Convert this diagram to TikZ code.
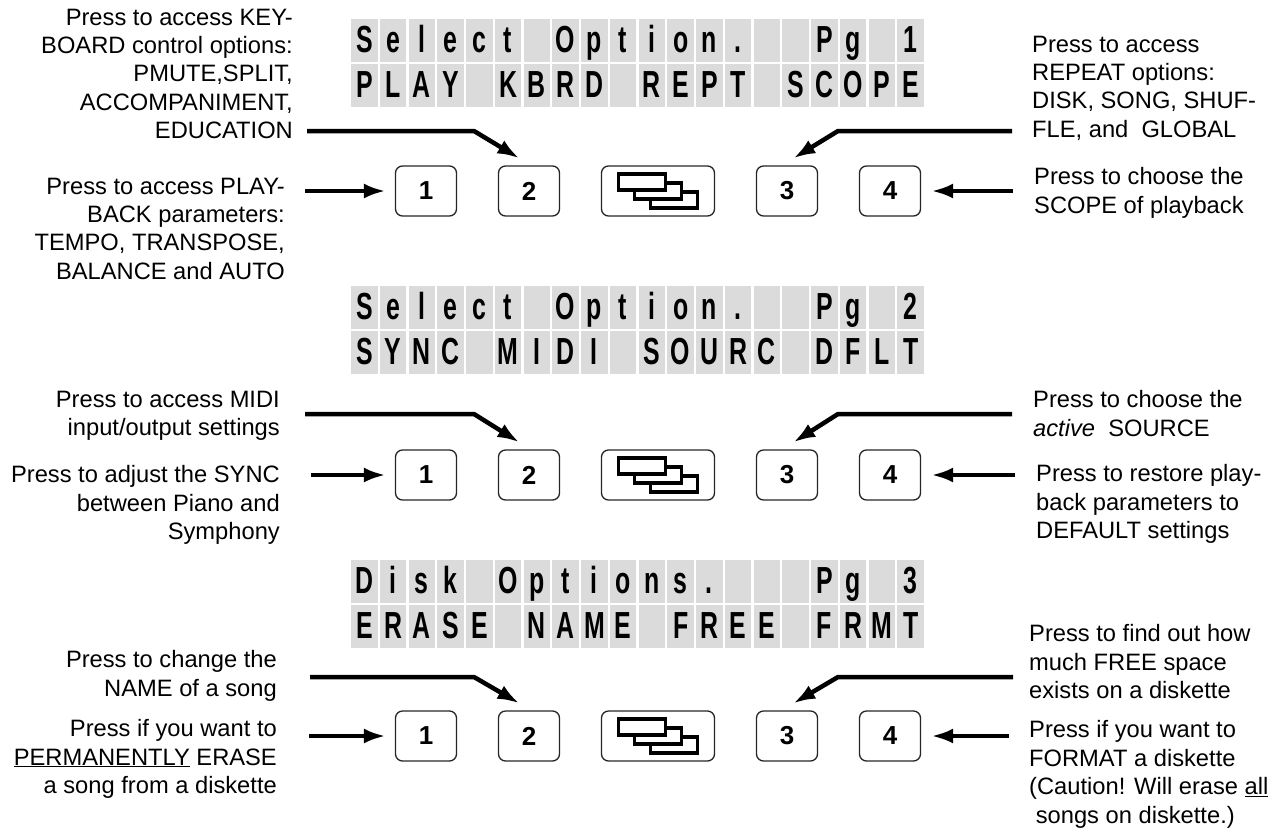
\documentclass[tikz,border=0pt]{standalone}
\usepackage{fontspec}
\setmainfont{Liberation Sans}
\newfontfamily\lcdfont[FakeStretch=0.66]{Liberation Sans}
\usetikzlibrary{arrows.meta,calc}

\definecolor{lcdgray}{gray}{0.86}

\tikzset{
	lcdcell/.style = {fill = lcdgray, minimum width = 26.5pt, minimum height = 43pt, inner sep = 0pt,
		text height = 33pt, text depth = 10pt, font = \lcdfont\bfseries\fontsize{37.7}{40}\selectfont},
	button/.style = {draw = black!85, line width = 1.3pt, rounded corners = 7pt, minimum width = 61pt,
		minimum height = 50pt, inner sep = 0pt, font = \bfseries\fontsize{26}{30}\selectfont},
	widebutton/.style = {button, minimum width = 113pt},
	label/.style = {inner sep = 0pt, font = \fontsize{23.7}{28.4}\selectfont},
	labelL/.style = {label, align = right, anchor = north east},
	labelR/.style = {label, align = left, anchor = north west},
	bigarrow/.style = {-{Latex[length = 22pt, width = 15pt]}, line width = 4.5pt}
}

% One row of the display: name, left x, centre y, characters
\newcommand\lcdrow[4]{%
	\foreach \ch [count = \k] in {#4}
		\node [lcdcell] (#1-\k) at ({#2 + (\k - 0.5) * \pitch}, #3) {\ch};
}

% One row of keys: name, centre y
\newcommand\keyrow[2]{%
	\node [button] (#1-1) at (426, #2) {1};
	\node [button] (#1-2) at (529, #2) {2};
	\node [widebutton] (#1-pg) at (658, #2) {};
	\node [button] (#1-3) at (787, #2) {3};
	\node [button] (#1-4) at (890, #2) {4};
	\foreach \d in {1, 0, -1}
		\draw [fill = white, line width = 3.2pt] ($(#1-pg) + (16 * \d - 23.5, 9 * \d - 8)$) rectangle ++(47, 16);
}

\begin{document}
\begin{tikzpicture}[x = 1pt, y = -1pt]

	% Definitions

	\def\pitch{28.75}	% Width of one display cell
	\def\lcdx{350}		% Left edge of the displays

	\useasboundingbox (0, 0) rectangle (1278, 831);

	% Page 1

	\lcdrow{p1a}{\lcdx}{40.5}{S,e,l,e,c,t,{},O,p,t,i,o,n,.,{},{},P,g,{},1}
	\lcdrow{p1b}{\lcdx}{85.5}{P,L,A,Y,{},K,B,R,D,{},R,E,P,T,{},S,C,O,P,E}
	\keyrow{k1}{191}

	\node [labelL] (kbrd) at (293, 8.5) {Press to access KEY-\\BOARD control options:\\PMUTE,SPLIT,\\ACCOMPANIMENT,\\EDUCATION};
	\node [labelL] (play) at (285, 177.5) {Press to access PLAY-\\BACK parameters:\\TEMPO, TRANSPOSE,\\BALANCE and AUTO};
	\node [labelR] (rept) at (1032, 35.5) {Press to access\\REPEAT options:\\DISK, SONG, SHUF-\\FLE, and~ GLOBAL};
	\node [labelR] (scope) at (1034, 167.5) {Press to choose the\\SCOPE of playback};

	\coordinate (kbrd-out) at (307, 131);
	\coordinate (kbrd-bend) at (474, 131);
	\coordinate (kbrd-tip) at ($(k1-2.north west) + (21.5, -7)$);
	\draw [bigarrow] (kbrd-out) -- (kbrd-bend) -- (kbrd-tip);

	\coordinate (rept-out) at (1012, 131);
	\coordinate (rept-bend) at (838, 131);
	\coordinate (rept-tip) at ($(k1-3.north west) + (37.5, -7)$);
	\draw [bigarrow] (rept-out) -- (rept-bend) -- (rept-tip);

	\draw [bigarrow, shorten >= 9pt] ([xshift = -90pt] k1-1.west) -- (k1-1.west);
	\draw [bigarrow, shorten >= 10pt] ([xshift = 92pt] k1-4.east) -- (k1-4.east);

	% Page 2

	\lcdrow{p2a}{\lcdx}{307.5}{S,e,l,e,c,t,{},O,p,t,i,o,n,.,{},{},P,g,{},2}
	\lcdrow{p2b}{\lcdx}{352.5}{S,Y,N,C,{},M,I,D,I,{},S,O,U,R,C,{},D,F,L,T}
	\keyrow{k2}{475}

	\node [labelL] (midi) at (280, 390.5) {Press to access MIDI\\input/output settings};
	\node [labelL] (sync) at (280, 465.5) {Press to adjust the SYNC\\between Piano and\\Symphony};
	\node [labelR] (sourc) at (1033, 390.5) {Press to choose the\\\textit{active}~ SOURCE};
	\node [labelR] (dflt) at (1036, 464.5) {Press to restore play-\\back parameters to\\DEFAULT settings};

	\coordinate (midi-out) at (305, 414);
	\coordinate (midi-bend) at (474, 414);
	\coordinate (midi-tip) at ($(k2-2.north west) + (21.5, -7)$);
	\draw [bigarrow] (midi-out) -- (midi-bend) -- (midi-tip);

	\coordinate (sourc-out) at (1012, 414);
	\coordinate (sourc-bend) at (838, 414);
	\coordinate (sourc-tip) at ($(k2-3.north west) + (37.5, -7)$);
	\draw [bigarrow] (sourc-out) -- (sourc-bend) -- (sourc-tip);

	\draw [bigarrow, shorten >= 9pt] ([xshift = -83.5pt] k2-1.west) -- (k2-1.west);
	\draw [bigarrow, shorten >= 10pt] ([xshift = 93.5pt] k2-4.east) -- (k2-4.east);

	% Page 3

	\lcdrow{p3a}{\lcdx}{581.5}{D,i,s,k,{},O,p,t,i,o,n,s,.,{},{},{},P,g,{},3}
	\lcdrow{p3b}{\lcdx}{626.5}{E,R,A,S,E,{},N,A,M,E,{},F,R,E,E,{},F,R,M,T}
	\keyrow{k3}{736}

	\node [labelL] (name) at (277, 650.5) {Press to change the\\NAME of a song};
	\node [labelL] (erase) at (277, 719.5) {Press if you want to\\\underline{PERMANENTLY} ERASE\\a song from a diskette};
	\node [labelR] (free) at (1029, 624.5) {Press to find out how\\much FREE space\\exists on a diskette};
	\node [labelR] (frmt) at (1029, 720.5) {Press if you want to\\FORMAT a diskette\\(Caution! Will erase \underline{all}\\\hspace*{0.28em}songs on diskette.)};

	\coordinate (name-out) at (310, 677);
	\coordinate (name-bend) at (474, 677);
	\coordinate (name-tip) at ($(k3-2.north west) + (21.5, -7)$);
	\draw [bigarrow] (name-out) -- (name-bend) -- (name-tip);

	\coordinate (free-out) at (1013, 677);
	\coordinate (free-bend) at (838, 677);
	\coordinate (free-tip) at ($(k3-3.north west) + (37.5, -7)$);
	\draw [bigarrow] (free-out) -- (free-bend) -- (free-tip);

	\draw [bigarrow, shorten >= 9pt] ([xshift = -85.5pt] k3-1.west) -- (k3-1.west);
	\draw [bigarrow, shorten >= 10pt] ([xshift = 87.5pt] k3-4.east) -- (k3-4.east);

\end{tikzpicture}
\end{document}
